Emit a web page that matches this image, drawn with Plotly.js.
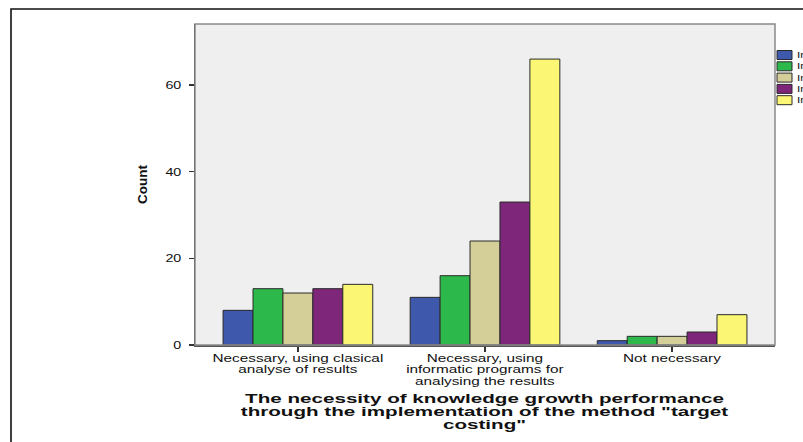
<!DOCTYPE html>
<html>
<head>
<meta charset="utf-8">
<script src="https://cdn.plot.ly/plotly-3.0.1.min.js"></script>
<style>
html,body{margin:0;padding:0;background:#fff;overflow:hidden;}
#chart{width:803px;height:442px;}
</style>
</head>
<body>
<div id="chart"></div>
<script>
// ---- data ----
var categories = [
  "Necessary, using clasical<br>analyse of results",
  "Necessary, using<br>informatic programs for<br>analysing the results",
  "Not necessary"
];
var seriesNames = ["In a very small measure", "In a small measure", "In a medium measure", "In a large measure", "In a very large measure"];
var seriesColors = ["#3e58ac", "#2db84b", "#d4cf98", "#7e2679", "#fbf775"];
var s1 = [8, 11, 1];
var s2 = [13, 16, 2];
var s3 = [12, 24, 2];
var s4 = [13, 33, 3];
var s5 = [14, 66, 7];
var seriesValues = [s1, s2, s3, s4, s5];
var yTicks = [0, 20, 40, 60];
var xTitle = "The necessity of knowledge growth performance<br>through the implementation of the method \"target<br>costing\"";

// ---- layout constants (pixels) ----
var W = 803, H = 442;
var L = 195, R = 28, T = 24, B = 97;
var pw = W - L - R, ph = H - T - B;
function px2x(p){ return (p - L) / pw; }
function px2y(p){ return (H - B - p) / ph; }

var catIdx = categories.map(function(_, i){ return i; });

var traces = seriesValues.map(function(vals, i){
  return {
    type: "bar",
    name: seriesNames[i],
    x: catIdx,
    y: vals,
    marker: {color: seriesColors[i], line: {color: "#2a2a2a", width: 1}},
    showlegend: false,
    hoverinfo: "y"
  };
});

var shapes = [
  {type: "rect", xref: "paper", yref: "paper", x0: px2x(11), x1: px2x(830), y0: px2y(470), y1: px2y(9),
   line: {color: "#111", width: 1.6}, fillcolor: "rgba(0,0,0,0)", layer: "below"},
  {type: "rect", xref: "paper", yref: "paper", x0: 0, x1: 1, y0: 0, y1: 1,
   line: {color: "#8a8a8a", width: 1.5}, fillcolor: "rgba(0,0,0,0)", layer: "above"}
];
var annotations = [];
seriesNames.forEach(function(n, i){
  var cy = 55 + i * 11.3;
  shapes.push({type: "rect", xref: "paper", yref: "paper",
    x0: px2x(777), x1: px2x(792), y0: px2y(cy + 4.5), y1: px2y(cy - 4.5),
    fillcolor: seriesColors[i], line: {color: "#2a2a2a", width: 1}});
  annotations.push({xref: "paper", yref: "paper", x: px2x(795), y: px2y(cy),
    xanchor: "left", yanchor: "middle", showarrow: false, text: n,
    font: {family: "Liberation Sans, Arial", size: 9, color: "#111"}});
});
annotations.push({xref: "paper", yref: "paper", x: 0.5, y: px2y(390), xanchor: "center", yanchor: "top",
  showarrow: false, text: "<b>" + xTitle + "</b>", align: "center",
  font: {family: "Liberation Sans, Arial", size: 12.5, color: "#111"}});

var layout = {
  width: W, height: H,
  margin: {l: L, r: R, t: T, b: B, pad: 0},
  paper_bgcolor: "#ffffff",
  plot_bgcolor: "#efefef",
  barmode: "group",
  bargap: 0.2,
  bargroupgap: 0,
  showlegend: false,
  font: {family: "Liberation Sans, Arial", color: "#111"},
  xaxis: {
    range: [-0.55, 2.55],
    tickvals: catIdx,
    ticktext: categories,
    ticks: "outside", ticklen: 5, tickwidth: 1.5, tickcolor: "#333",
    showline: true, linecolor: "#555", linewidth: 1.5,
    showgrid: false, zeroline: false,
    tickfont: {family: "Liberation Sans, Arial", size: 10.5, color: "#111"},
    fixedrange: true
  },
  yaxis: {
    range: [0, 74.1],
    tickvals: yTicks,
    ticks: "outside", ticklen: 5, tickwidth: 1.5, tickcolor: "#333",
    showline: true, linecolor: "#333", linewidth: 1.5,
    showgrid: false, zeroline: false,
    ticklabelstandoff: 5,
    tickfont: {family: "Liberation Sans, Arial", size: 11, color: "#111"},
    title: {text: "<b>Count</b>", font: {family: "Liberation Sans, Arial", size: 13.5, color: "#111"}, standoff: 18},
    automargin: false,
    fixedrange: true
  },
  shapes: shapes,
  annotations: annotations
};

// the reference texts look horizontally stretched with tight line spacing
function lineGap(sel, em){
  document.querySelectorAll(sel + " tspan.line").forEach(function(ts){
    var dy = ts.getAttribute("dy");
    if (dy) { var v = parseFloat(dy); if (v) ts.setAttribute("dy", (v / 1.3 * em) + "em"); }
  });
}
function stretch(nodes, sx, anchor, shiftY){
  nodes.forEach(function(t){
    var bb = t.getBBox();
    var cx = anchor === "end" ? bb.x + bb.width : (anchor === "start" ? bb.x : bb.x + bb.width / 2);
    var tr = t.getAttribute("transform") || "";
    t.setAttribute("transform", tr + " translate(" + cx + "," + (shiftY || 0) + ") scale(" + sx + ",1) translate(" + (-cx) + ",0)");
  });
}

Plotly.newPlot("chart", traces, layout, {displayModeBar: false, staticPlot: true}).then(function(){
  lineGap(".xtick", 1.08);
  lineGap(".annotation-text-g", 1.04);
  stretch(Array.prototype.slice.call(document.querySelectorAll(".xtick text")), 1.46, "middle", -2);
  stretch(Array.prototype.slice.call(document.querySelectorAll(".ytick text")), 1.3, "end", 0);
  var ann = Array.prototype.slice.call(document.querySelectorAll(".annotation-text"));
  var nLeg = seriesNames.length;
  stretch(ann.slice(0, nLeg), 1.3, "start", 0);
  stretch(ann.slice(nLeg), 1.65, "middle", 0);
});
</script>
</body>
</html>
